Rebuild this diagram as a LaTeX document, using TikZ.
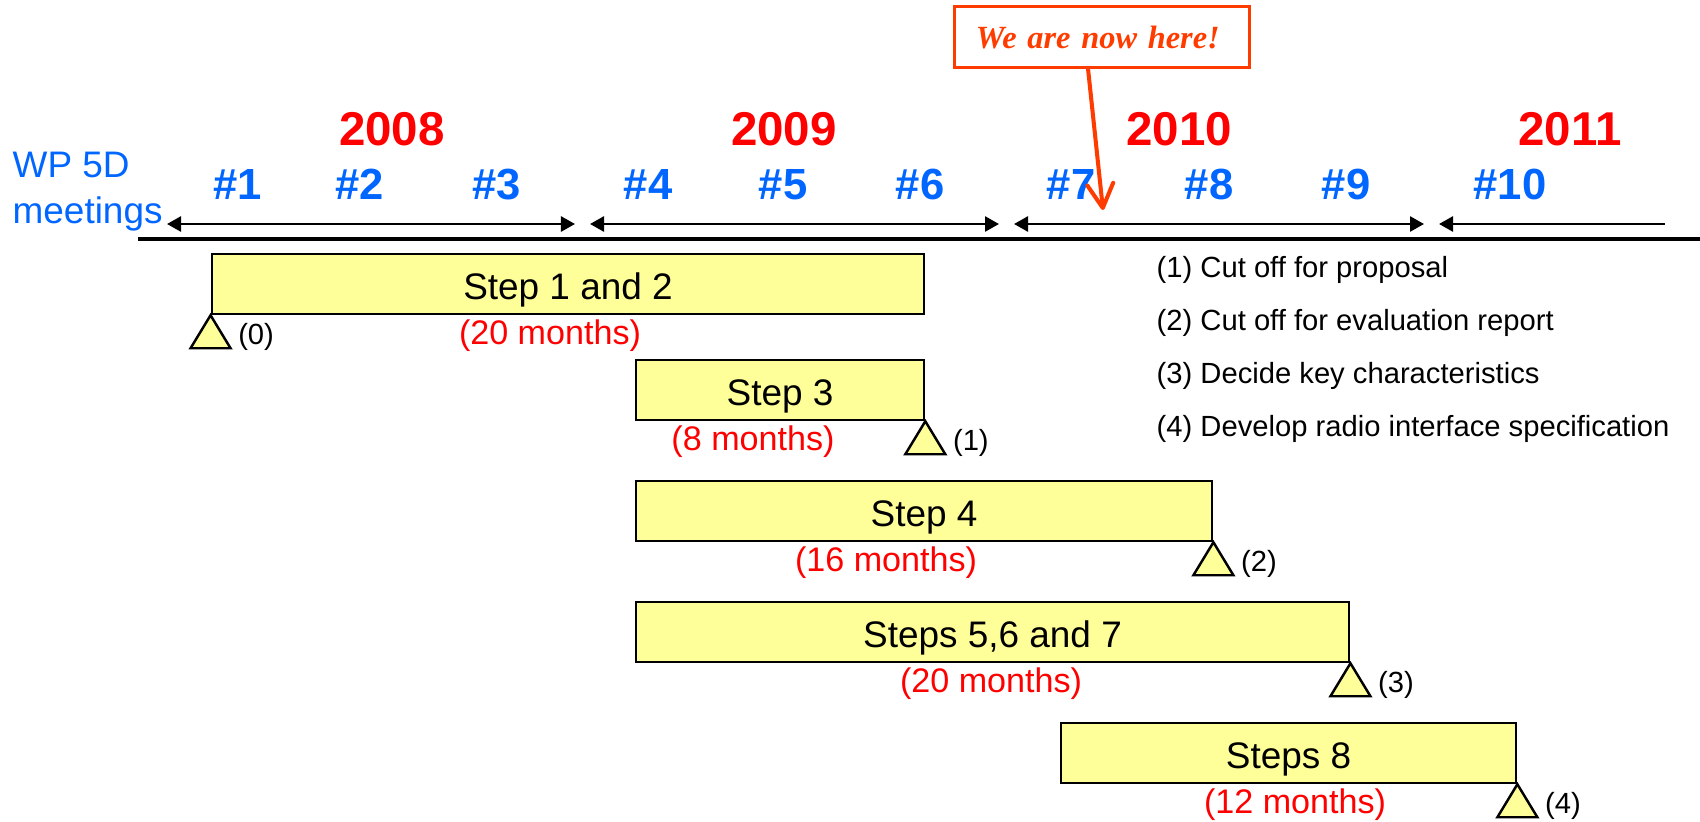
\documentclass[tikz,border=0pt]{standalone}
\usepackage{fontspec}
\setmainfont{Liberation Sans}
\newfontfamily\timesfont{Liberation Serif}
\usetikzlibrary{arrows.meta,calc}
\definecolor{yr}{RGB}{255,0,0}
\definecolor{mb}{RGB}{0,102,255}
\definecolor{barfill}{RGB}{255,255,153}
\definecolor{callred}{RGB}{255,60,0}
\begin{document}
\begin{tikzpicture}[x=0.01cm,y=-0.01cm,
  year/.style={font=\fontsize{13.5}{16}\selectfont\bfseries, text=yr, anchor=base, inner sep=0},
  meet/.style={font=\fontsize{12.4}{15}\selectfont\bfseries, text=mb, anchor=base, inner sep=0},
  bar/.style={draw, fill=barfill, line width=0.7pt, inner sep=0, minimum height=0.60cm, text height=0.30cm, text depth=0pt, font=\fontsize{10.5}{12}\selectfont},
  months/.style={font=\fontsize{9.7}{12}\selectfont, text=yr, anchor=base, inner sep=0},
  small/.style={font=\fontsize{8.3}{10}\selectfont, anchor=base west, inner sep=0},
  tri/.style={draw, fill=barfill, line width=0.7pt, line join=miter},
  period/.style={line width=0.75pt, {Triangle[length=0.14cm,width=0.15cm]}-{Triangle[length=0.14cm,width=0.15cm]}},
  periodopen/.style={line width=0.75pt, {Triangle[length=0.14cm,width=0.15cm]}-},
]
\useasboundingbox (0,0) rectangle (1700,821);

% WP 5D label (base anchor = baseline of last line)
\node[anchor=base west, inner sep=0, text=mb, font=\fontsize{10.5}{12.8}\selectfont, align=left] (wp) at (12,223) {WP 5D\\meetings};

% years
\node[year] (y8) at (392,145) {2008};
\node[year] (y9) at (784,145) {2009};
\node[year] (y10) at (1179,145) {2010};
\node[year] (y11) at (1570,145) {2011};

% meetings
\node[meet] (m1) at (238,199) {\#1};
\node[meet] (m2) at (360,199) {\#2};
\node[meet] (m3) at (497,199) {\#3};
\node[meet] (m4) at (648,199) {\#4};
\node[meet] (m5) at (783,199) {\#5};
\node[meet] (m6) at (920,199) {\#6};
\node[meet] (m7) at (1071,199) {\#7};
\node[meet] (m8) at (1209,199) {\#8};
\node[meet] (m9) at (1346,199) {\#9};
\node[meet] (m10) at (1510,199) {\#10};

% period arrows
\coordinate (p1a) at (167,224); \coordinate (p1b) at (575,224);
\coordinate (p2a) at (590,224); \coordinate (p2b) at (999,224);
\coordinate (p3a) at (1014,224); \coordinate (p3b) at (1424,224);
\coordinate (p4a) at (1439,224); \coordinate (p4b) at (1665,224);
\draw[period] (p1a) -- (p1b);
\draw[period] (p2a) -- (p2b);
\draw[period] (p3a) -- (p3b);
\draw[periodopen] (p4a) -- (p4b);

% timeline
\coordinate (tl) at (138,239); \coordinate (tr) at (1700,239);
\draw[line width=1pt] (tl) -- (tr);

% bars
\node[bar, minimum width=7.12cm] (b1) at (568,284) {Step 1 and 2};
\node[bar, minimum width=2.88cm] (b2) at (780,390) {Step 3};
\node[bar, minimum width=5.76cm] (b3) at (924,511) {Step 4};
\node[bar, minimum width=7.13cm] (b4) at (992.5,632) {Steps 5,6 and 7};
\node[bar, minimum width=4.55cm] (b5) at (1288.5,753) {Steps 8};

% months
\node[months] (mo1) at (550,344) {(20 months)};
\node[months] (mo2) at (753,450) {(8 months)};
\node[months] (mo3) at (886,571) {(16 months)};
\node[months] (mo4) at (991,692) {(20 months)};
\node[months] (mo5) at (1295,813) {(12 months)};

% milestones
\draw[tri] (b1.south west) -- ++(-20,33) -- ++(40,0) -- cycle;
\draw[tri] (b2.south east) -- ++(-20,33) -- ++(40,0) -- cycle;
\draw[tri] (b3.south east) -- ++(-20,33) -- ++(40,0) -- cycle;
\draw[tri] (b4.south east) -- ++(-20,33) -- ++(40,0) -- cycle;
\draw[tri] (b5.south east) -- ++(-20,33) -- ++(40,0) -- cycle;
\node[small] (l0) at ($(b1.south west)+(27,29)$) {(0)};
\node[small] (l1) at ($(b2.south east)+(27,29)$) {(1)};
\node[small] (l2) at ($(b3.south east)+(27,29)$) {(2)};
\node[small] (l3) at ($(b4.south east)+(27,29)$) {(3)};
\node[small] (l4) at ($(b5.south east)+(27,29)$) {(4)};

% legend
\node[small] (g1) at (1156,277) {(1) Cut off for proposal};
\node[small] (g2) at (1156,330) {(2) Cut off for evaluation report};
\node[small] (g3) at (1156,383) {(3) Decide key characteristics};
\node[small] (g4) at (1156,436) {(4) Develop radio interface specification};

% callout
\node[draw=callred, line width=0.85pt, minimum height=0.60cm, text width=2.52cm, inner xsep=0.21cm, inner ysep=0, text height=0.22cm, text depth=0pt, align=left, text=callred, font=\timesfont\fontsize{9.2}{11}\selectfont\bfseries\itshape] (callout) at (1102,37) {We are now here!};
\coordinate (here) at (1103,210);
\draw[callred, line width=1.15pt, line cap=round, -{Straight Barb[length=0.24cm,width=0.26cm,round]}] ($(callout.south)+(-14,0)$) -- (here);
\end{tikzpicture}
\end{document}
